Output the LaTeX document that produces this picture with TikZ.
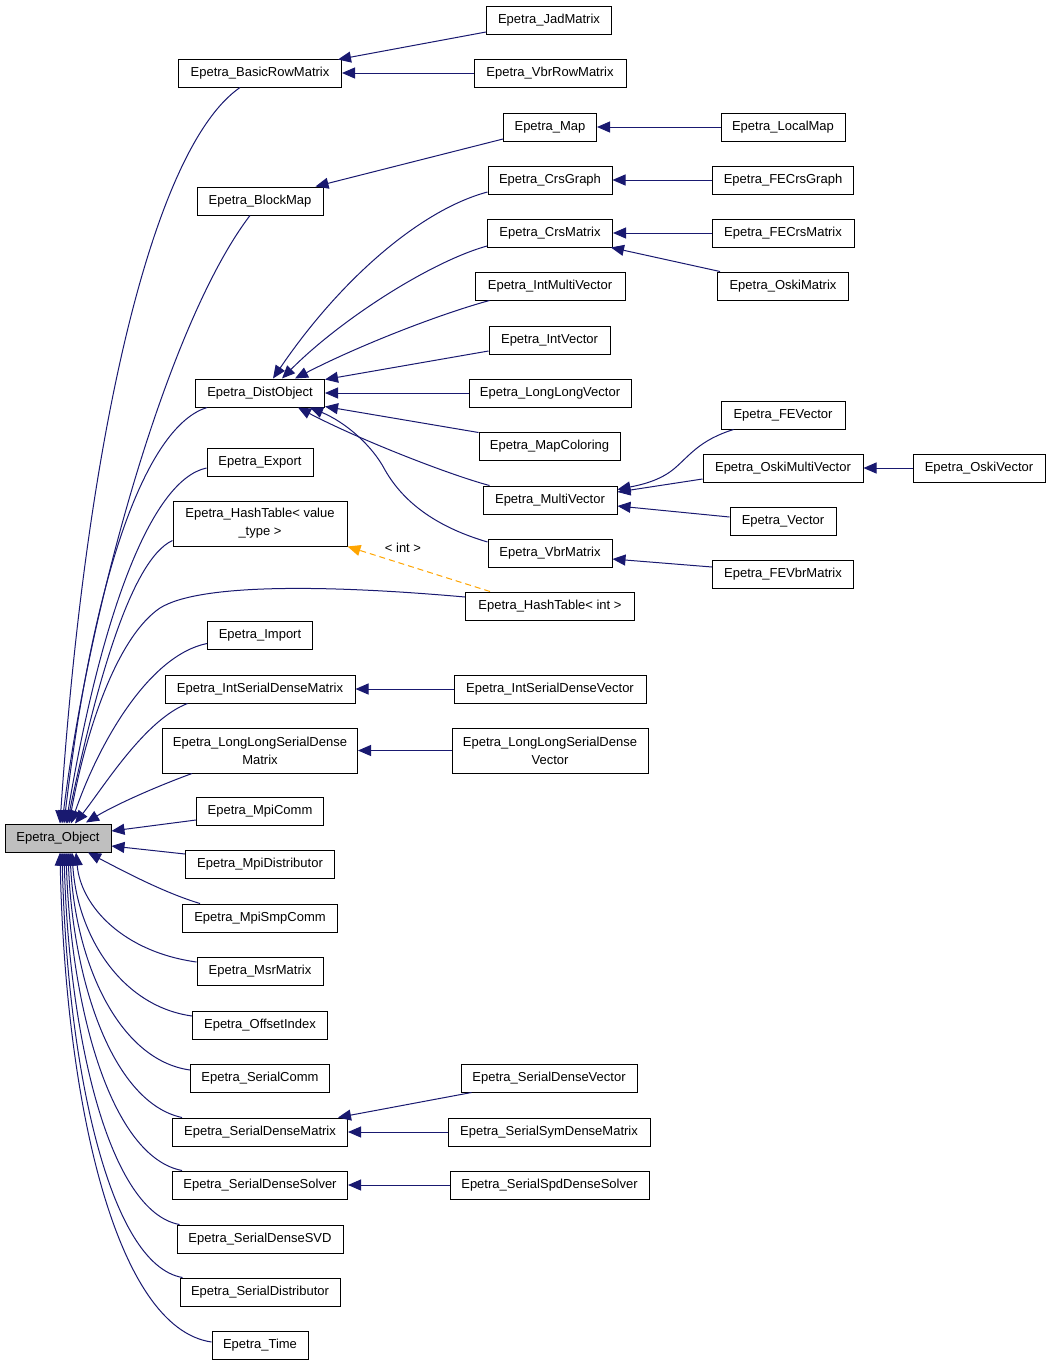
\documentclass[tikz,border=0pt]{standalone}
\usepackage{fontspec}
\setmainfont{Liberation Sans}
\usetikzlibrary{arrows.meta}
\definecolor{edgeblue}{HTML}{191970}
\definecolor{dashorange}{HTML}{FFA500}
\definecolor{objgray}{HTML}{BFBFBF}
\begin{document}
\begin{tikzpicture}[x=1pt,y=-1pt,
 box/.style={draw=black,line width=1pt,rectangle,minimum height=28pt,inner sep=0pt,
   font=\fontsize{13}{18}\selectfont,align=center,fill=white},
 edge/.style={draw=edgeblue,line width=1pt,-{Triangle[length=13pt,width=11pt]}},
 tmpl/.style={draw=dashorange,line width=1pt,dash pattern=on 6pt off 4pt,
   -{Triangle[length=13pt,width=11pt,fill=dashorange]}},
 lbl/.style={font=\fontsize{13}{18}\selectfont,inner sep=0pt}
]
\fill[white] (0,0) rectangle (1051,1365);
\useasboundingbox (0,0) rectangle (1051,1365);

% root
\node[box,minimum width=106pt,fill=objgray] (obj) at (58,838) {Epetra\_Object};

% column 2
\node[box,minimum width=163pt] (brm) at (260,73) {Epetra\_BasicRowMatrix};
\node[box,minimum width=126pt] (blk) at (260,201) {Epetra\_BlockMap};
\node[box,minimum width=129pt] (dist) at (260,393) {Epetra\_DistObject};
\node[box,minimum width=106pt] (exp) at (260,462) {Epetra\_Export};
\node[box,minimum width=174pt,minimum height=45pt] (htv) at (260,523.5) {Epetra\_HashTable< value\\\_type >};
\node[box,minimum width=105pt] (imp) at (260,635.5) {Epetra\_Import};
\node[box,minimum width=190pt] (isdm) at (260,689) {Epetra\_IntSerialDenseMatrix};
\node[box,minimum width=195pt,minimum height=45pt] (llsdm) at (260,750.5) {Epetra\_LongLongSerialDense\\Matrix};
\node[box,minimum width=127pt] (mpic) at (260,811) {Epetra\_MpiComm};
\node[box,minimum width=149pt] (mpid) at (260,864) {Epetra\_MpiDistributor};
\node[box,minimum width=155pt] (mpis) at (260,918) {Epetra\_MpiSmpComm};
\node[box,minimum width=126pt] (msr) at (260,971) {Epetra\_MsrMatrix};
\node[box,minimum width=135pt] (off) at (260,1025) {Epetra\_OffsetIndex};
\node[box,minimum width=139pt] (scomm) at (260,1078) {Epetra\_SerialComm};
\node[box,minimum width=175pt] (sdm) at (260,1132) {Epetra\_SerialDenseMatrix};
\node[box,minimum width=175pt] (sds) at (260,1185) {Epetra\_SerialDenseSolver};
\node[box,minimum width=166pt] (svd) at (260,1239) {Epetra\_SerialDenseSVD};
\node[box,minimum width=160pt] (sdist) at (260,1292) {Epetra\_SerialDistributor};
\node[box,minimum width=96pt] (time) at (260,1345) {Epetra\_Time};

% column 3
\node[box,minimum width=125pt] (jad) at (549,20) {Epetra\_JadMatrix};
\node[box,minimum width=152pt] (vbrrow) at (550,73) {Epetra\_VbrRowMatrix};
\node[box,minimum width=93pt] (map) at (550,127) {Epetra\_Map};
\node[box,minimum width=124pt] (crsg) at (550,180) {Epetra\_CrsGraph};
\node[box,minimum width=125pt] (crsm) at (550,233) {Epetra\_CrsMatrix};
\node[box,minimum width=150pt] (imv) at (550,286) {Epetra\_IntMultiVector};
\node[box,minimum width=121pt] (iv) at (549.5,340) {Epetra\_IntVector};
\node[box,minimum width=162pt] (llv) at (550,393) {Epetra\_LongLongVector};
\node[box,minimum width=141pt] (mapc) at (549.5,446) {Epetra\_MapColoring};
\node[box,minimum width=134pt] (mv) at (550,500) {Epetra\_MultiVector};
\node[box,minimum width=124pt] (vbr) at (550,553) {Epetra\_VbrMatrix};
\node[box,minimum width=169pt] (hti) at (550,606) {Epetra\_HashTable< int >};
\node[box,minimum width=192pt] (isdv) at (550,689) {Epetra\_IntSerialDenseVector};
\node[box,minimum width=196pt,minimum height=45pt] (llsdv) at (550,750.5) {Epetra\_LongLongSerialDense\\Vector};
\node[box,minimum width=176pt] (sdv) at (549,1078) {Epetra\_SerialDenseVector};
\node[box,minimum width=202pt] (ssym) at (549,1132) {Epetra\_SerialSymDenseMatrix};
\node[box,minimum width=199pt] (spd) at (549.5,1185) {Epetra\_SerialSpdDenseSolver};

% column 4
\node[box,minimum width=124pt] (lmap) at (783,127) {Epetra\_LocalMap};
\node[box,minimum width=141pt] (fecg) at (783,180) {Epetra\_FECrsGraph};
\node[box,minimum width=142pt] (fecm) at (783,233) {Epetra\_FECrsMatrix};
\node[box,minimum width=131pt] (oski) at (783,286) {Epetra\_OskiMatrix};
\node[box,minimum width=124pt] (fev) at (783,415) {Epetra\_FEVector};
\node[box,minimum width=160pt] (omv) at (783,468) {Epetra\_OskiMultiVector};
\node[box,minimum width=106pt] (vec) at (783,521) {Epetra\_Vector};
\node[box,minimum width=141pt] (fevbr) at (783,574) {Epetra\_FEVbrMatrix};

% column 5
\node[box,minimum width=132pt] (ov) at (979,468) {Epetra\_OskiVector};

% label
\node[lbl] (tlab) at (403,548) {< int >};

% ---- edges to Epetra_Object (top side)
\draw[edge] ([shift={(-20,0)}]brm.south) .. controls (150,150) and (85,450) .. ([shift={(2,0)}]obj.north);
\draw[edge] ([shift={(-10,0)}]blk.south) .. controls (170,320) and (90,600) .. ([shift={(4,0)}]obj.north);
\draw[edge] ([shift={(12,0)}]dist.south west) .. controls (150,425) and (95,560) .. ([shift={(6,0)}]obj.north);
\draw[edge] ([shift={(0,6)}]exp.west) .. controls (150,480) and (100,620) .. ([shift={(8,0)}]obj.north);
\draw[edge] ([shift={(0,17)}]htv.west) .. controls (130,560) and (95,690) .. ([shift={(9,0)}]obj.north);
\draw[edge] ([shift={(0,-9)}]hti.west) .. controls (330,585) and (200,583) .. (160,608) .. controls (120,635) and (88,720) .. ([shift={(11,0)}]obj.north);
\draw[edge] ([shift={(0,8)}]imp.west) .. controls (150,655) and (100,740) .. ([shift={(13,0)}]obj.north);
\draw[edge] ([shift={(23,0)}]isdm.south west) .. controls (145,720) and (105,785) .. ([shift={(17,0)}]obj.north);
\draw[edge] ([shift={(30,0)}]llsdm.south west) .. controls (155,787) and (115,805) .. ([shift={(28,-1)}]obj.north);
\draw[edge] ([shift={(0,9)}]mpic.west) -- ([shift={(0,-7)}]obj.east);
\draw[edge] ([shift={(0,-10)}]mpid.west) -- ([shift={(0,8)}]obj.east);

% ---- edges to Epetra_Object (bottom side)
\draw[edge] ([shift={(18,0)}]mpis.north west) .. controls (165,893) and (125,872) .. ([shift={(30,0)}]obj.south);
\draw[edge] ([shift={(0,-9)}]msr.west) .. controls (124,952) and (81,907) .. ([shift={(18,0)}]obj.south);
\draw[edge] ([shift={(0,-9)}]off.west) .. controls (120,1006) and (77,934) .. ([shift={(14,0)}]obj.south);
\draw[edge] ([shift={(0,-8)}]scomm.west) .. controls (118,1060) and (75,961) .. ([shift={(12,0)}]obj.south);
\draw[edge] ([shift={(10,0)}]sdm.north west) .. controls (114,1103) and (73,985) .. ([shift={(10,0)}]obj.south);
\draw[edge] ([shift={(10,0)}]sds.north west) .. controls (112,1157) and (71,1012) .. ([shift={(8,0)}]obj.south);
\draw[edge] ([shift={(3,0)}]svd.north west) .. controls (110,1212) and (69,1040) .. ([shift={(6,0)}]obj.south);
\draw[edge] ([shift={(3,0)}]sdist.north west) .. controls (109,1265) and (67,1066) .. ([shift={(4,0)}]obj.south);
\draw[edge] ([shift={(0,-3)}]time.west) .. controls (115,1328) and (65,1100) .. ([shift={(2,0)}]obj.south);

% ---- edges to Epetra_BasicRowMatrix / BlockMap
\draw[edge] ([shift={(0,12)}]jad.west) -- ([shift={(-4,1)}]brm.north east);
\draw[edge] (vbrrow.west) -- (brm.east);
\draw[edge] ([shift={(0,12)}]map.west) -- ([shift={(-8,0)}]blk.north east);
\draw[edge] (lmap.west) -- (map.east);

% ---- edges to Epetra_DistObject
\draw[edge] ([shift={(0,12)}]crsg.west) .. controls (420,210) and (340,280) .. ([shift={(13,0)}]dist.north);
\draw[edge] ([shift={(0,13)}]crsm.west) .. controls (430,262) and (340,320) .. ([shift={(22,0)}]dist.north);
\draw[edge] ([shift={(15,0)}]imv.south west) .. controls (440,314) and (360,345) .. ([shift={(35,0)}]dist.north);
\draw[edge] ([shift={(0,11)}]iv.west) -- ([shift={(0,1)}]dist.north east);
\draw[edge] (llv.west) -- (dist.east);
\draw[edge] ([shift={(0,1)}]mapc.north west) -- ([shift={(0,-1)}]dist.south east);
\draw[edge] ([shift={(7,0)}]mv.north west) .. controls (450,475) and (360,440) .. ([shift={(38,0)}]dist.south);
\draw[edge] ([shift={(0,-11)}]vbr.west) .. controls (440,528) and (405,505) .. (385,470) .. controls (372,445) and (345,422) .. ([shift={(50,0)}]dist.south);

% ---- other edges
\draw[edge] (fecg.west) -- (crsg.east);
\draw[edge] (fecm.west) -- (crsm.east);
\draw[edge] ([shift={(3,0)}]oski.north west) -- ([shift={(-2,0)}]crsm.south east);
\draw[edge] ([shift={(13,0)}]fev.south west) .. controls (700,440) and (690,455) .. (675,468) .. controls (660,481) and (640,485) .. ([shift={(0,4)}]mv.north east);
\draw[edge] ([shift={(0,11)}]omv.west) -- ([shift={(0,-8)}]mv.east);
\draw[edge] ([shift={(0,-4)}]vec.west) -- ([shift={(0,6)}]mv.east);
\draw[edge] (ov.west) -- (omv.east);
\draw[edge] ([shift={(0,-7)}]fevbr.west) -- ([shift={(0,6)}]vbr.east);
\draw[tmpl] ([shift={(25,0)}]hti.north west) -- (htv.south east);
\draw[edge] (isdv.west) -- (isdm.east);
\draw[edge] (llsdv.west) -- (llsdm.east);
\draw[edge] ([shift={(11,0)}]sdv.south west) -- ([shift={(-10,0)}]sdm.north east);
\draw[edge] (ssym.west) -- (sdm.east);
\draw[edge] (spd.west) -- (sds.east);
\end{tikzpicture}
\end{document}
